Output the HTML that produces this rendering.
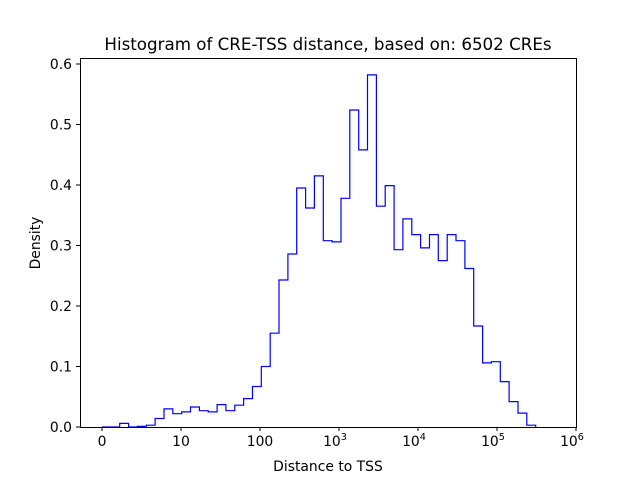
<!DOCTYPE html>
<html><head><meta charset="utf-8"><style>
html,body{margin:0;padding:0;background:#fff;}
svg{display:block;font-family:"DejaVu Sans","Liberation Sans",sans-serif;}
</style></head><body>
<svg width="640" height="480" viewBox="0 0 640 480" xmlns="http://www.w3.org/2000/svg">
<rect width="640" height="480" fill="#fff"/>
<polyline id="h" fill="none" stroke="#0000ff" stroke-width="1.2" points=""/>
<rect x="80.5" y="58.5" width="496" height="369" fill="none" stroke="#000" stroke-width="1"/>
<g stroke="#000" stroke-width="1">
<line x1="102" y1="427" x2="102" y2="431"/><line x1="181" y1="427" x2="181" y2="431"/>
<line x1="260" y1="427" x2="260" y2="431"/><line x1="339" y1="427" x2="339" y2="431"/>
<line x1="418" y1="427" x2="418" y2="431"/><line x1="497" y1="427" x2="497" y2="431"/>
<line x1="576" y1="427" x2="576" y2="431"/>
<line x1="76" y1="427" x2="80" y2="427"/><line x1="76" y1="366.5" x2="80" y2="366.5"/>
<line x1="76" y1="306" x2="80" y2="306"/><line x1="76" y1="245.5" x2="80" y2="245.5"/>
<line x1="76" y1="185" x2="80" y2="185"/><line x1="76" y1="124.5" x2="80" y2="124.5"/>
<line x1="76" y1="64" x2="80" y2="64"/>
</g>
<g font-size="13.9" fill="#000" text-anchor="middle">
<text x="102" y="446">0</text><text x="181" y="446">10</text><text x="260" y="446">100</text>
<text x="335" y="446">10<tspan font-size="9.7" dy="-6">3</tspan></text>
<text x="414" y="446">10<tspan font-size="9.7" dy="-6">4</tspan></text>
<text x="493" y="446">10<tspan font-size="9.7" dy="-6">5</tspan></text>
<text x="572" y="446">10<tspan font-size="9.7" dy="-6">6</tspan></text>
</g>
<g font-size="13.9" fill="#000" text-anchor="end">
<text x="72" y="432">0.0</text><text x="72" y="371.5">0.1</text><text x="72" y="311">0.2</text>
<text x="72" y="250.5">0.3</text><text x="72" y="190">0.4</text><text x="72" y="129.5">0.5</text>
<text x="72" y="69">0.6</text>
</g>
<text x="328" y="471" font-size="13.9" text-anchor="middle">Distance to TSS</text>
<text x="40" y="243" font-size="13.9" text-anchor="middle" transform="rotate(-90 40 243)">Density</text>
<text x="328" y="50" font-size="16.7" text-anchor="middle">Histogram of CRE-TSS distance, based on: 6502 CREs</text>
</svg>
<script>
var v=[0,0,0.006,0,0.001,0.003,0.014,0.03,0.022,0.025,0.033,0.027,0.025,0.037,0.027,0.036,0.047,0.067,0.1,0.155,0.243,0.286,0.395,0.362,0.415,0.308,0.306,0.378,0.524,0.458,0.582,0.365,0.399,0.293,0.344,0.318,0.296,0.318,0.275,0.318,0.308,0.262,0.167,0.106,0.108,0.075,0.042,0.023,0.003];
var w=(535.7-102)/49,p=[];p.push("102,427");
for(var i=0;i<v.length;i++){var y=427-v[i]*605;var x0=102+i*w,x1=x0+w;p.push(x0.toFixed(1)+","+y.toFixed(1));p.push(x1.toFixed(1)+","+y.toFixed(1));}
p.push("535.7,427");
document.getElementById("h").setAttribute("points",p.join(" "));
</script>
</body></html>
